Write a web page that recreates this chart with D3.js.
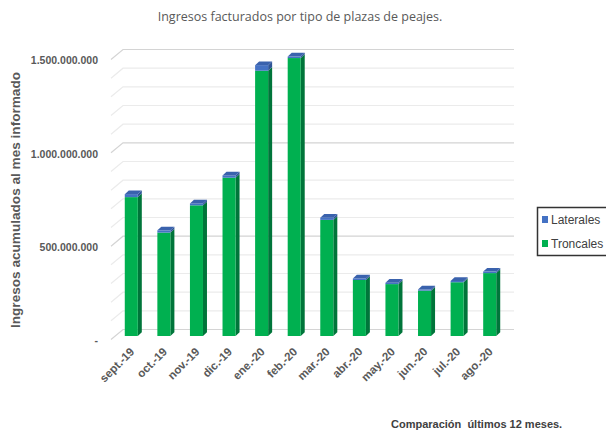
<!DOCTYPE html>
<html>
<head>
<meta charset="utf-8">
<script src="https://cdn.jsdelivr.net/npm/d3@7"></script>
<style>
  body { margin: 0; background: #fff; }
  svg { display: block; font-family: Arial, "Liberation Sans", sans-serif; }
</style>
</head>
<body>
<svg id="chart"></svg>
<script>
// Data (values in pesos)
const months = ['sept.-19', 'oct.-19', 'nov.-19', 'dic.-19', 'ene.-20', 'feb.-20',
                'mar.-20', 'abr.-20', 'may.-20', 'jun.-20', 'jul.-20', 'ago.-20'];
const troncales = [744e6, 554e6, 700e6, 848e6, 1421e6, 1489e6, 622e6, 300e6, 278e6, 243e6, 288e6, 337e6];
const laterales = [16e6, 12e6, 10e6, 12e6, 30e6, 8e6, 12e6, 8e6, 7e6, 6e6, 7e6, 8e6];
const yTicks = [0, 500e6, 1000e6, 1500e6];
const yGrid = d3.range(0, 1500e6 + 1, 100e6);

(function() {

    const w = 606;
    const h = 435;

    // Front plane of the plot
    const plotLeft = 111, plotRight = 502, plotBottom = 339.5, plotTop = 59.5;
    // 3D offsets
    const wall = { dx: 12, dy: -10 };
    const face = { dx: 4, dy: -3.5 };
    const depth = { dx: 4, dy: -3.7 };

    const svg = d3.select('#chart').attr('width', w).attr('height', h);

    const scaleX = d3.scaleBand().domain(months).range([plotLeft, plotRight]).paddingInner(0.6).paddingOuter(0.3);
    const scaleY = d3.scaleLinear().domain([0, 1500e6]).range([plotBottom, plotTop]);

    const locale = d3.formatLocale({ decimal: ',', thousands: '.', grouping: [3], currency: ['', ''] });
    const fmt = locale.format(',d');

    // Gridlines: side wall diagonal + back wall
    const grid = svg.append('g');
    yGrid.forEach(v => {
        const y = scaleY(v);
        const major = v % 500e6 === 0;
        grid.append('path')
            .attr('d', `M${plotLeft},${y}L${plotLeft + wall.dx},${y + wall.dy}L${plotRight + wall.dx},${y + wall.dy}`)
            .attr('fill', 'none')
            .attr('stroke', major ? '#d4d4d4' : '#ebebeb')
            .attr('stroke-width', 1.2);
    });

    // Bars
    const series = [
        { name: 'Troncales', values: troncales, front: '#00b050', side: '#00753a', topc: '#27c46a' },
        { name: 'Laterales', values: laterales, front: '#4472c4', side: '#2f5597', topc: '#3a62ad' }
    ];

    const bars = svg.append('g');
    months.forEach((m, i) => {
        const x0 = scaleX(m) + face.dx;
        const x1 = x0 + scaleX.bandwidth();
        let base = 0;
        series.forEach((s, si) => {
            const v = s.values[i];
            const yb = scaleY(base) + face.dy;
            const yt = scaleY(base + v) + face.dy;
            // side face
            bars.append('path')
                .attr('d', `M${x1},${yb}L${x1 + depth.dx},${yb + depth.dy}L${x1 + depth.dx},${yt + depth.dy}L${x1},${yt}Z`)
                .attr('fill', s.side);
            // front face
            bars.append('rect')
                .attr('x', x0).attr('y', yt)
                .attr('width', x1 - x0).attr('height', yb - yt)
                .attr('fill', s.front);
            // top face (only the last series)
            if (si === series.length - 1) {
                bars.append('path')
                    .attr('d', `M${x0},${yt}L${x0 + depth.dx},${yt + depth.dy}L${x1 + depth.dx},${yt + depth.dy}L${x1},${yt}Z`)
                    .attr('fill', s.topc);
            }
            base += v;
        });
    });

    // Y axis
    const yAxis = d3.axisLeft(scaleY)
        .tickValues(yTicks)
        .tickSize(0)
        .tickPadding(0)
        .tickFormat(d => d === 0 ? '-' : fmt(d));

    const gy = svg.append('g')
        .attr('transform', `translate(98, 1)`)
        .call(yAxis);
    gy.select('.domain').remove();
    gy.selectAll('text')
        .attr('font-family', 'Arial, "Liberation Sans", sans-serif')
        .attr('font-size', 10.5)
        .attr('font-weight', 'bold')
        .attr('fill', '#595959');

    // X axis labels
    const xAxis = d3.axisBottom(scaleX).tickSize(0).tickPadding(0);
    const gx = svg.append('g')
        .attr('transform', `translate(${face.dx + 1}, ${plotBottom + 10})`)
        .call(xAxis);
    gx.select('.domain').remove();
    gx.selectAll('text')
        .attr('font-family', 'Arial, "Liberation Sans", sans-serif')
        .attr('font-size', 11.5)
        .attr('font-weight', 'bold')
        .attr('fill', '#595959')
        .attr('text-anchor', 'end')
        .attr('dy', '0.35em')
        .attr('transform', 'rotate(-45)');

    // Title
    svg.append('text')
        .attr('x', 300).attr('y', 21)
        .attr('text-anchor', 'middle')
        .attr('font-family', '"Liberation Sans Narrow", "Open Sans", Arial, sans-serif')
        .attr('font-size', 12.5)
        .attr('fill', '#595959')
        .text('Ingresos facturados por tipo de plazas de peajes.');

    // Y axis title
    svg.append('text')
        .attr('transform', 'translate(20, 200) rotate(-90)')
        .attr('text-anchor', 'middle')
        .attr('font-size', 13.6)
        .attr('font-weight', 'bold')
        .attr('fill', '#595959')
        .text('Ingresos acumulados al mes informado');

    // Legend
    const legend = svg.append('g');
    legend.append('rect')
        .attr('x', 537.5).attr('y', 207.5)
        .attr('width', 70).attr('height', 48)
        .attr('fill', '#fff')
        .attr('stroke', '#333')
        .attr('stroke-width', 1.5);
    [series[1], series[0]].forEach((s, i) => {
        const y = 220 + i * 24;
        legend.append('rect')
            .attr('x', 542).attr('y', y - 4)
            .attr('width', 6).attr('height', 7)
            .attr('fill', s.front);
        legend.append('text')
            .attr('x', 551).attr('y', y + 4)
            .attr('font-size', 12)
            .attr('fill', '#404040')
            .text(s.name);
    });

    // Footnote
    svg.append('text')
        .attr('x', 391).attr('y', 428)
        .attr('font-size', 11)
        .attr('font-weight', 'bold')
        .attr('fill', '#404040')
        .attr('xml:space', 'preserve')
        .text('Comparación  últimos 12 meses.');

})();
</script>
</body>
</html>
